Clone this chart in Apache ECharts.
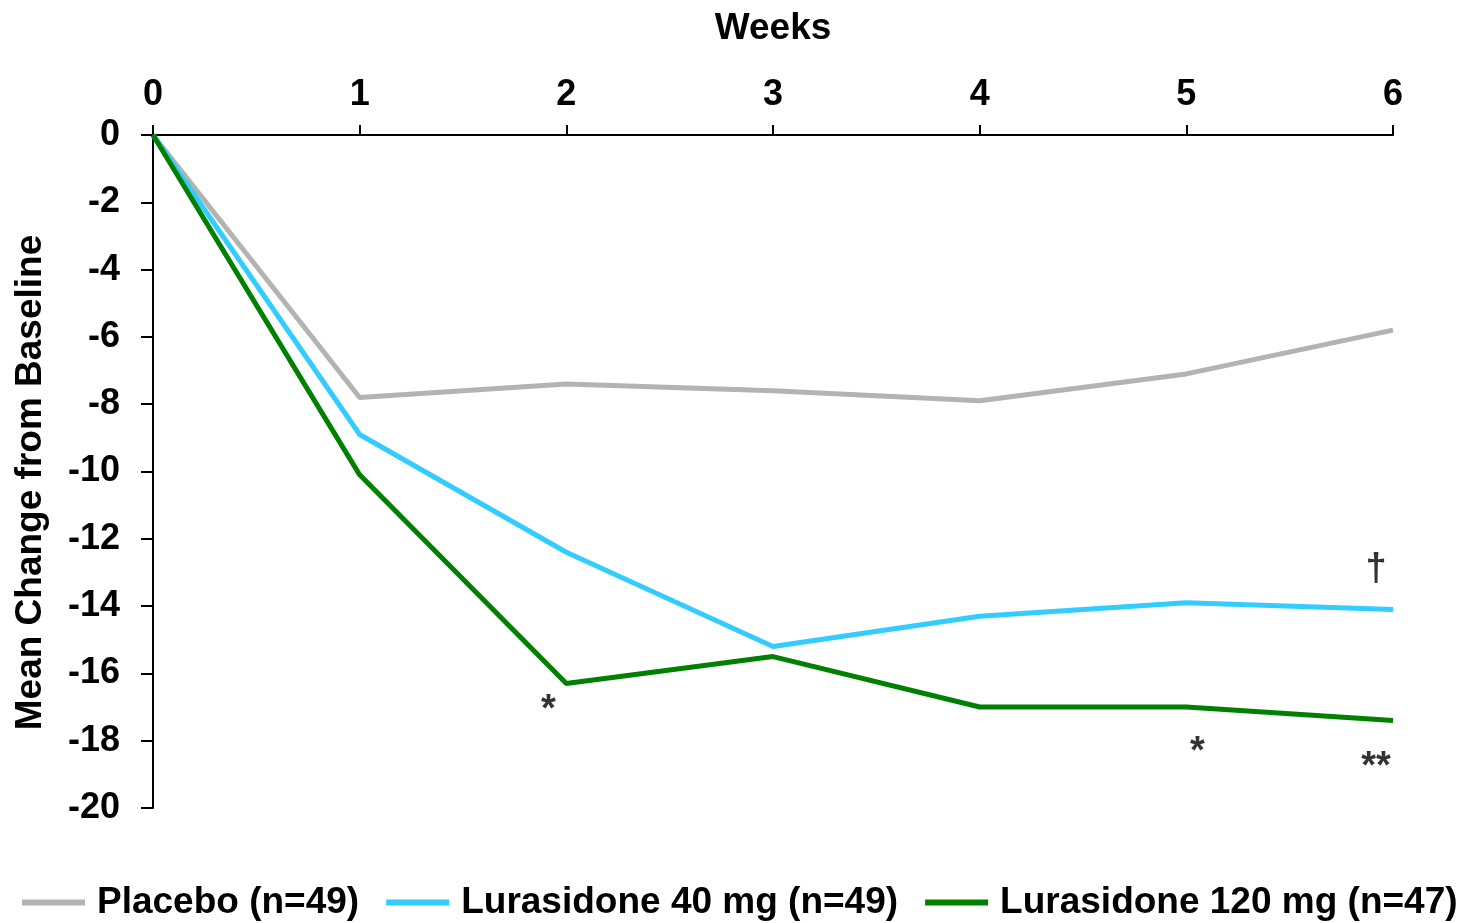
<!DOCTYPE html>
<html>
<head>
<meta charset="utf-8">
<script src="https://cdn.jsdelivr.net/npm/echarts@6/dist/echarts.min.js"></script>
<style>
html,body{margin:0;padding:0;background:#fff;}
#chart{width:1470px;height:923px;}
</style>
</head>
<body>
<div id="chart"></div>
<script>
// ---- data ----
const weeks = [0, 1, 2, 3, 4, 5, 6];
const placebo = [0, -7.8, -7.4, -7.6, -7.9, -7.1, -5.8];
const lura40 = [0, -8.9, -12.4, -15.2, -14.3, -13.9, -14.1];
const lura120 = [0, -10.1, -16.3, -15.5, -17.0, -17.0, -17.4];
const seriesNames = ['Placebo (n=49)', 'Lurasidone 40 mg (n=49)', 'Lurasidone 120 mg (n=47)'];
// significance markers: [series index, week index, text]
const markers = [
  [2, 2, '*'],
  [2, 5, '*'],
  [2, 6, '**'],
  [1, 6, '†']
];

// ---- styles ----
const colors = ['#B3B3B3', '#33CCFF', '#008000'];
const markerOffsets = [[-18, 27], [11, 45], [-17, 47], [-17, -40]];
const font = "'Liberation Sans', Arial, sans-serif";

const chart = echarts.init(document.getElementById('chart'));
const seriesData = [placebo, lura40, lura120];

const series = seriesData.map((vals, i) => ({
  name: seriesNames[i],
  type: 'line',
  data: weeks.map((w, j) => [w, vals[j]]),
  symbol: 'none',
  lineStyle: { width: 5, color: colors[i] },
  itemStyle: { color: colors[i] },
  z: i + 2,
  animation: false
}));

series.push({
  type: 'scatter',
  symbolSize: 0,
  silent: true,
  animation: false,
  data: markers.map((m, k) => ({
    value: [weeks[m[1]], seriesData[m[0]][m[1]]],
    label: {
      show: true,
      position: 'inside',
      formatter: m[2],
      offset: markerOffsets[k],
      color: '#000',
      textBorderWidth: 0,
      textBorderColor: 'transparent',
      fontSize: 38,
      fontWeight: 'bold',
      fontFamily: font
    }
  })),
  z: 10
});

chart.setOption({
  animation: false,
  backgroundColor: '#fff',
  grid: { left: 153, right: 77, top: 135, bottom: 115, containLabel: false, outerBoundsMode: 'none' },
  legend: {
    bottom: -3,
    left: 17,
    data: seriesNames,
    icon: 'rect',
    itemWidth: 63,
    itemHeight: 6,
    itemGap: 27,
    textStyle: { fontSize: 37, fontWeight: 'bold', color: '#000', fontFamily: font, padding: [0, 0, 0, 7] }
  },
  xAxis: {
    type: 'value',
    position: 'top',
    min: 0, max: 6, interval: 1,
    name: 'Weeks',
    nameLocation: 'middle',
    nameGap: 88,
    nameTextStyle: { fontSize: 37, fontWeight: 'bold', color: '#000', fontFamily: font },
    axisLine: { show: true, lineStyle: { color: '#000', width: 2 } },
    axisTick: { show: true, inside: false, length: 10, lineStyle: { color: '#000', width: 2 } },
    axisLabel: { fontSize: 36, fontWeight: 'bold', color: '#000', fontFamily: font, margin: 22 },
    splitLine: { show: false }
  },
  yAxis: {
    type: 'value',
    min: -20, max: 0, interval: 2,
    name: 'Mean Change from Baseline',
    nameLocation: 'middle',
    nameGap: 104,
    nameRotate: 90,
    nameTextStyle: { fontSize: 37, fontWeight: 'bold', color: '#000', fontFamily: font, padding: [0, 22, 0, 0] },
    axisLine: { show: true, onZero: false, lineStyle: { color: '#000', width: 2 } },
    axisTick: { show: true, inside: false, length: 12, lineStyle: { color: '#000', width: 2 } },
    axisLabel: { fontSize: 36, fontWeight: 'bold', color: '#000', fontFamily: font, margin: 33 },
    splitLine: { show: false }
  },
  series: series
});
</script>
</body>
</html>
